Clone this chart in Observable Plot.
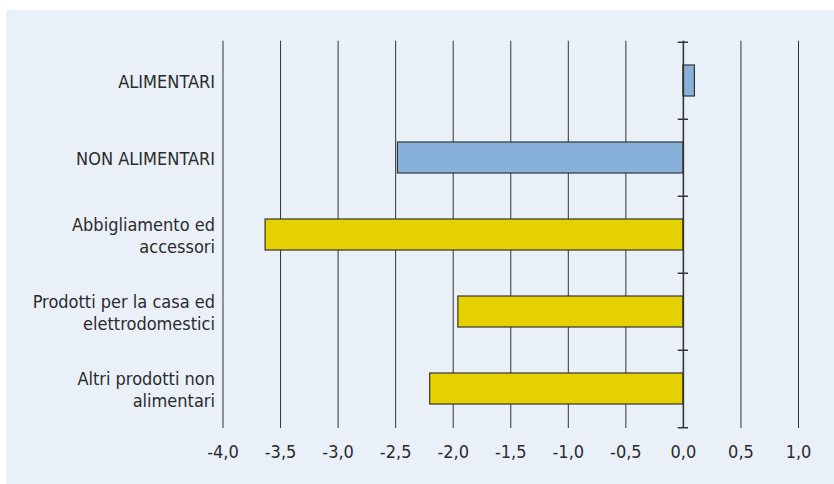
<!DOCTYPE html>
<html>
<head>
<meta charset="utf-8">
<script src="https://cdn.jsdelivr.net/npm/d3@7"></script>
<script src="https://cdn.jsdelivr.net/npm/@observablehq/plot@0.6"></script>
<style>
  html, body { margin: 0; padding: 0; background: #ffffff; }
  #wrap { position: relative; width: 834px; height: 484px; overflow: hidden; }
  #panel { position: absolute; left: 6px; top: 10px; right: 0; bottom: 0; background: #eaf0f8; }
  #chart { position: absolute; left: 0; top: 0; }
</style>
</head>
<body>
<div id="wrap"><div id="panel"></div><div id="chart"></div></div>
<script>
// Variazioni percentuali delle vendite per settore merceologico
const categories = [
  "ALIMENTARI",
  "NON ALIMENTARI",
  "Abbigliamento ed\naccessori",
  "Prodotti per la casa ed\nelettrodomestici",
  "Altri prodotti non\nalimentari"
];
const values = [0.1, -2.48, -3.63, -1.955, -2.2];
const groups = ["totale", "totale", "settore", "settore", "settore"];
const xTicks = [-4, -3.5, -3, -2.5, -2, -1.5, -1, -0.5, 0, 0.5, 1];

const data = categories.map((c, i) => ({cat: c, value: values[i], group: groups[i]}));

const width = 834, height = 484;
const marginTop = 40.7, marginBottom = 56, marginLeft = 222.5, marginRight = 36;
const step = (height - marginTop - marginBottom) / categories.length;
const fmt = d => d3.format(".1f")(d).replace("\u2212", "-").replace(".", ",");
const font = "'Liberation Sans Narrow', 'DejaVu Sans Condensed', 'Arial Narrow', sans-serif";

const chart = Plot.plot({
  width, height, marginTop, marginBottom, marginLeft, marginRight,
  style: {background: "transparent", fontFamily: font, fontSize: "18px", color: "#2b2b2b"},
  x: {domain: [-4, 1], label: null},
  y: {domain: categories, paddingInner: 0.6, paddingOuter: 0.3, label: null},
  color: {domain: ["totale", "settore"], range: ["#87b1d9", "#e6d100"]},
  marks: [
    Plot.ruleX(xTicks, {stroke: "#333333", strokeWidth: 1, strokeOpacity: 1}),
    Plot.barX(data, {x: "value", y: "cat", fill: "group", stroke: "#333333", strokeWidth: 1.2}),
    Plot.ruleX([0], {stroke: "#333333", strokeWidth: 1.5}),
    // category separators on the zero axis
    Plot.ruleY(categories, {y: d => d, x1: -0.045, x2: 0.045, dy: -step / 2, stroke: "#333333", strokeWidth: 1.5}),
    Plot.ruleY(categories.slice(-1), {y: d => d, x1: -0.045, x2: 0.045, dy: step / 2, stroke: "#333333", strokeWidth: 1.5}),
    Plot.axisX({ticks: xTicks, tickSize: 0, tickPadding: 17, tickFormat: fmt, fontSize: 18, fill: "#2b2b2b", label: null}),
    Plot.axisY({tickSize: 0, tickPadding: 8, lineHeight: 1.25, fontSize: 18, fill: "#2b2b2b", label: null})
  ]
});
document.getElementById("chart").append(chart);
</script>
</body>
</html>
